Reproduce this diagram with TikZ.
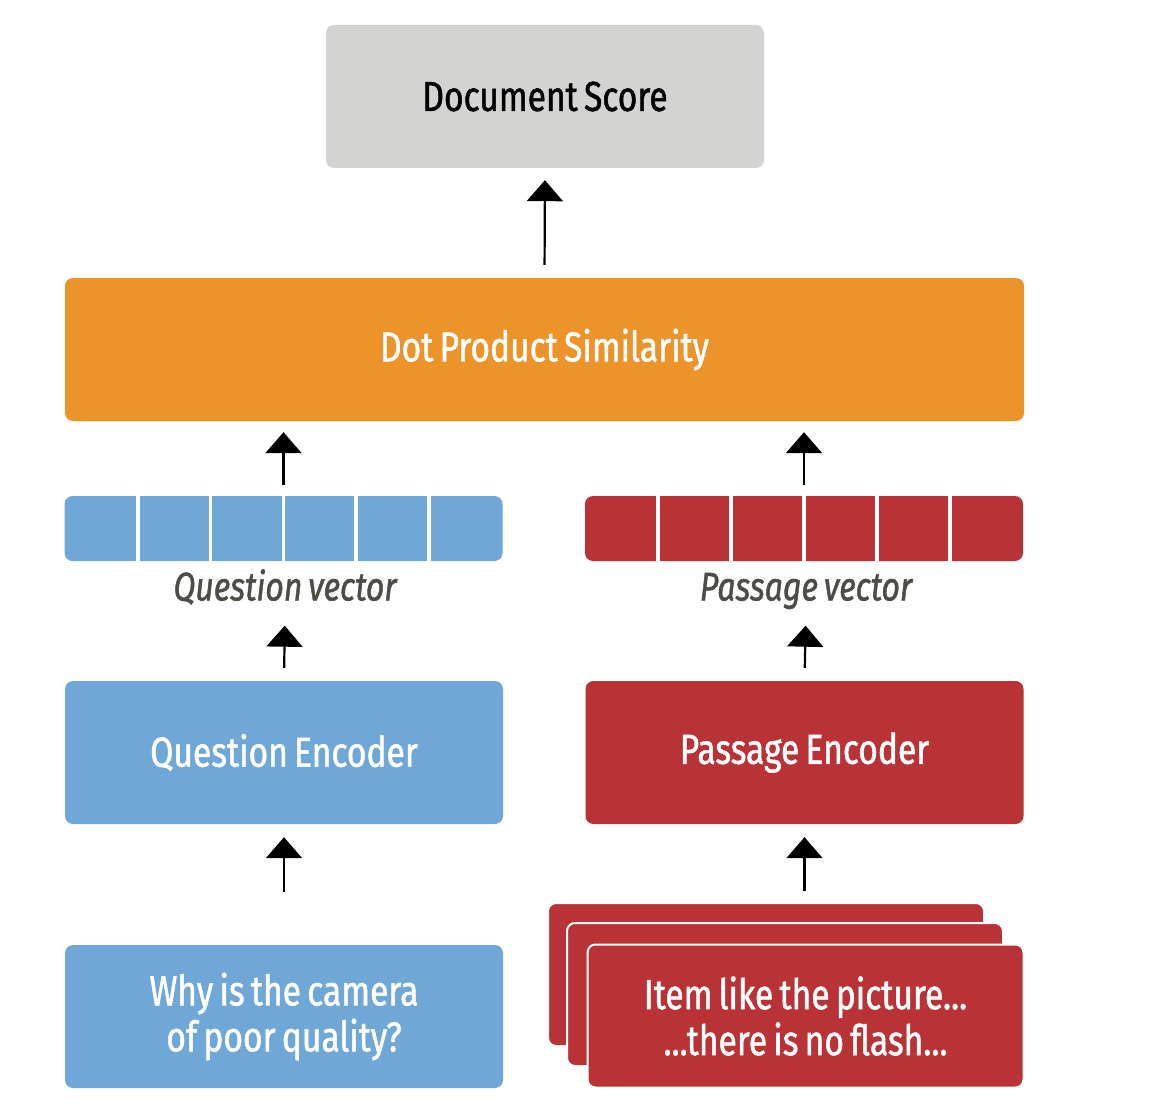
\documentclass[tikz,border=0pt]{standalone}
\usepackage{fontspec}
\setmainfont[FakeStretch=0.8, FakeBold=1.2, WordSpace=0.7]{Fira Sans}
\usetikzlibrary{arrows.meta}
\definecolor{scoregray}{HTML}{D3D3D2}
\definecolor{dotorange}{HTML}{EC9329}
\definecolor{qblue}{HTML}{6FA8D6}
\definecolor{pred}{HTML}{B83236}
\definecolor{labelgray}{HTML}{4D4D47}
\tikzset{
  blk/.style={rectangle, rounded corners=8pt, minimum width=438pt, minimum height=143pt,
    inner sep=0pt, align=center, text=white, font=\fontsize{42}{46}\selectfont},
  vec/.style={rectangle, rounded corners=8pt, minimum width=438pt, minimum height=65pt, inner sep=0pt},
  lbl/.style={inner sep=0pt, text height=27pt, text depth=8pt, text=labelgray,
    font=\itshape\fontsize{40}{42}\selectfont},
  up/.style={-{Triangle[width=36pt,length=21pt]}, line width=2.2pt},
}
\begin{document}
\begin{tikzpicture}[x=1pt,y=-1pt]
  \useasboundingbox (0,0) rectangle (1158,1110);
  % top
  \node[blk, fill=scoregray, text=black] (score) at (545,96.5) {Document Score};
  \node[blk, fill=dotorange, minimum width=959pt] (dot) at (544.5,349.5) {Dot Product Similarity};
  % vectors
  \node[vec, fill=qblue] (qvec) at (283.5,528.5) {};
  \node[vec, fill=pred] (pvec) at (804,528.5) {};
  \foreach \i in {1,...,5} {
    \draw[white, line width=3.5pt] ({65+72.8*\i},494) -- ++(0,69);
    \draw[white, line width=3.5pt] ({585+73*\i},494) -- ++(0,69);
  }
  \node[lbl] (qlbl) at (285,591) {Question vector};
  \node[lbl] (plbl) at (806,591) {Passage vector};
  % encoders
  \node[blk, fill=qblue] (qenc) at (284,752.5) {Question Encoder};
  \node[blk, fill=pred] (penc) at (804.5,752.5) {Passage Encoder};
  % inputs
  \node[blk, fill=qblue] (qtext) at (284,1016.5) {Why is the camera\\of poor quality?};
  \node[blk, fill=pred, draw=white, line width=2pt, minimum width=436pt] (pback) at (766,974.5) {};
  \node[blk, fill=pred, draw=white, line width=2pt, minimum width=436pt] (pmid) at (785,994.5) {};
  \node[blk, fill=pred, draw=white, line width=2pt, minimum width=436pt] (ptext) at (805.5,1016) {Item like the picture...\\...there is no flash...};
  % arrows
  \draw[up, shorten <=13pt, shorten >=12pt] (dot.north) -- (score.south);
  \draw[up, shorten <=11pt, shorten >=11pt] (qvec.north) -- (qvec.north |- dot.south);
  \draw[up, shorten <=11pt, shorten >=11pt] (pvec.north) -- (pvec.north |- dot.south);
  \draw[up, shorten <=13pt, shorten >=17pt] (qenc.north) -- (qlbl.south);
  \draw[up, shorten <=13pt, shorten >=17pt] (penc.north) -- (plbl.south);
  \draw[up, shorten <=53pt, shorten >=13pt] (qtext.north) -- (qenc.south);
  \draw[up, shorten <=11pt, shorten >=13pt] (penc.south |- pback.north) -- (penc.south);
\end{tikzpicture}
\end{document}
